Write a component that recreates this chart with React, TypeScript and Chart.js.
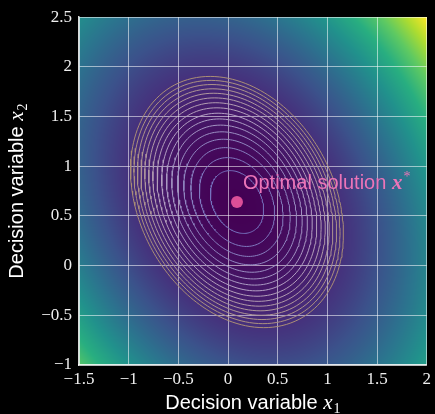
import React, { useEffect, useRef } from "react";
import { Chart, registerables } from "chart.js";

Chart.register(...registerables);

// ---- data ----
const xRange = [-1.5, 2];
const yRange = [-1, 2.5];
const tickStep = 0.5;
const xStar = [0.09, 0.64];
// quadratic objective f(x) = (x - x*)^T Q (x - x*)
const Q = [
  [1.49, 0.32],
  [0.32, 1.07],
];
const contourLevels = [0.1, 0.2, 0.3, 0.4, 0.5, 0.6, 0.7, 0.8, 0.9, 1.0, 1.1, 1.2, 1.3, 1.4, 1.5, 1.6];
const labelText = "Optimal solution ";
const labelAnchor = [0.15, 0.77];

const viridisStops = [
  [68, 1, 84],
  [71, 44, 122],
  [59, 82, 139],
  [44, 114, 142],
  [33, 145, 140],
  [40, 174, 128],
  [94, 201, 98],
  [173, 220, 48],
  [253, 231, 37],
];
const contourStops = [
  [110, 108, 190],
  [180, 160, 196],
  [170, 142, 118],
];

function f(x: number, y: number) {
  const dx = x - xStar[0];
  const dy = y - xStar[1];
  return Q[0][0] * dx * dx + 2 * Q[0][1] * dx * dy + Q[1][1] * dy * dy;
}

function interp(stops: number[][], t: number) {
  const tt = Math.max(0, Math.min(1, t)) * (stops.length - 1);
  const i = Math.min(stops.length - 2, Math.floor(tt));
  const u = tt - i;
  return stops[i].map((c, k) => c + (stops[i + 1][k] - c) * u);
}

function fmt(v: number) {
  const r = Math.round(v * 100) / 100;
  const s = String(Math.abs(r));
  return r < 0 ? "\u2212" + s : s;
}

function drawParts(ctx: CanvasRenderingContext2D, parts: any[], x: number, y: number, center: boolean) {
  let total = 0;
  for (const p of parts) {
    ctx.font = p.font;
    total += ctx.measureText(p.text).width + (p.gap || 0);
  }
  let cx = center ? x - total / 2 : x;
  ctx.textBaseline = "alphabetic";
  ctx.textAlign = "left";
  for (const p of parts) {
    ctx.font = p.font;
    ctx.fillStyle = p.color;
    ctx.fillText(p.text, cx, y + (p.dy || 0));
    cx += ctx.measureText(p.text).width + (p.gap || 0);
  }
}

const heatmapPlugin = {
  id: "heatmap",
  beforeDraw(chart: any) {
    const { ctx, chartArea, scales } = chart;
    ctx.save();
    ctx.fillStyle = "#000";
    ctx.fillRect(0, 0, chart.width, chart.height);
    const left = Math.round(chartArea.left);
    const top = Math.round(chartArea.top);
    const w = Math.round(chartArea.right) - left;
    const h = Math.round(chartArea.bottom) - top;
    const img = ctx.createImageData(w, h);
    const corners = [
      f(xRange[0], yRange[0]), f(xRange[0], yRange[1]),
      f(xRange[1], yRange[0]), f(xRange[1], yRange[1]),
    ];
    const fmax = Math.max(...corners);
    for (let j = 0; j < h; j++) {
      const yv = scales.y.getValueForPixel(top + j + 0.5);
      for (let i = 0; i < w; i++) {
        const xv = scales.x.getValueForPixel(left + i + 0.5);
        const c = interp(viridisStops, f(xv, yv) / fmax);
        const o = (j * w + i) * 4;
        img.data[o] = c[0];
        img.data[o + 1] = c[1];
        img.data[o + 2] = c[2];
        img.data[o + 3] = 255;
      }
    }
    ctx.putImageData(img, left, top);
    ctx.restore();
  },
  afterDraw(chart: any) {
    const { ctx, chartArea, scales } = chart;
    ctx.save();
    const white = "#ffffff";
    // x axis title
    drawParts(
      ctx,
      [
        { text: "Decision variable ", font: "20px 'Liberation Sans'", color: white },
        { text: "x", font: "italic 21px 'Liberation Serif'", color: white, gap: 1 },
        { text: "1", font: "14px 'Liberation Serif'", color: white, dy: 4 },
      ],
      (chartArea.left + chartArea.right) / 2,
      409,
      true
    );
    // y axis title
    ctx.save();
    ctx.translate(23, (chartArea.top + chartArea.bottom) / 2);
    ctx.rotate(-Math.PI / 2);
    drawParts(
      ctx,
      [
        { text: "Decision variable ", font: "20px 'Liberation Sans'", color: white },
        { text: "x", font: "italic 21px 'Liberation Serif'", color: white, gap: 1 },
        { text: "2", font: "14px 'Liberation Serif'", color: white, dy: 4 },
      ],
      0,
      0,
      true
    );
    ctx.restore();
    // annotation
    const lx = scales.x.getPixelForValue(labelAnchor[0]);
    const ly = scales.y.getPixelForValue(labelAnchor[1]);
    const pink = "#ec74b8";
    drawParts(
      ctx,
      [
        { text: labelText, font: "20px 'Liberation Sans'", color: pink },
        { text: "x", font: "bold italic 21px 'Liberation Serif'", color: pink, gap: 1 },
        { text: "*", font: "14px 'Liberation Serif'", color: pink, dy: -8 },
      ],
      lx,
      ly,
      false
    );
    ctx.restore();
  },
};

function ellipse(level: number) {
  const pts: { x: number; y: number }[] = [];
  const n = 180;
  for (let k = 0; k <= n; k++) {
    const t = (k / n) * Math.PI * 2;
    const c = Math.cos(t);
    const s = Math.sin(t);
    const q = Q[0][0] * c * c + 2 * Q[0][1] * c * s + Q[1][1] * s * s;
    const r = Math.sqrt(level / q);
    pts.push({ x: xStar[0] + r * c, y: xStar[1] + r * s });
  }
  return pts;
}

export default function App() {
  const ref = useRef<HTMLCanvasElement | null>(null);
  useEffect(() => {
    document.body.style.margin = "0";
    document.body.style.background = "#000";
    if (!ref.current) return;
    const maxL = contourLevels[contourLevels.length - 1];
    const contourSets = contourLevels.map((L) => {
      const c = interp(contourStops, L / maxL);
      return {
        type: "scatter" as const,
        data: ellipse(L),
        showLine: true,
        pointRadius: 0,
        borderWidth: 1,
        borderColor: `rgb(${c.map((v) => Math.round(v)).join(",")})`,
        tension: 0,
      };
    });
    const tickFont = { family: "'Liberation Serif'", size: 17 };
    const chart = new Chart(ref.current, {
      type: "scatter",
      data: {
        datasets: [
          ...contourSets,
          {
            type: "scatter" as const,
            data: [{ x: xStar[0], y: xStar[1] }],
            pointRadius: 6,
            pointHoverRadius: 6,
            backgroundColor: "#dc4f98",
            borderWidth: 0,
          },
        ] as any,
      },
      options: {
        responsive: false,
        animation: false,
        events: [],
        layout: { padding: { top: 13, right: 5, left: 0, bottom: 0 } },
        plugins: { legend: { display: false }, tooltip: { enabled: false } },
        scales: {
          x: {
            type: "linear",
            min: xRange[0],
            max: xRange[1],
            z: 1,
            ticks: {
              stepSize: tickStep,
              color: "#eeeeee",
              font: tickFont,
              padding: 4,
              callback: (v: any) => fmt(Number(v)),
            },
            grid: { color: "rgba(255,255,255,0.55)", lineWidth: 1, drawTicks: false },
            border: { color: "rgba(255,255,255,0.85)", width: 1.5 },
            afterFit: (s: any) => {
              s.height = 49;
            },
          },
          y: {
            type: "linear",
            min: yRange[0],
            max: yRange[1],
            z: 1,
            ticks: {
              stepSize: tickStep,
              color: "#eeeeee",
              font: tickFont,
              padding: 7,
              callback: (v: any) => fmt(Number(v)),
            },
            grid: { color: "rgba(255,255,255,0.55)", lineWidth: 1, drawTicks: false },
            border: { color: "rgba(255,255,255,0.85)", width: 1.5 },
            afterFit: (s: any) => {
              s.width = 79;
            },
          },
        },
      },
      plugins: [heatmapPlugin],
    });
    return () => chart.destroy();
  }, []);
  return (
    <div style={{ width: 435, height: 414, background: "#000" }}>
      <canvas ref={ref} width={435} height={414} style={{ display: "block" }} />
    </div>
  );
}
